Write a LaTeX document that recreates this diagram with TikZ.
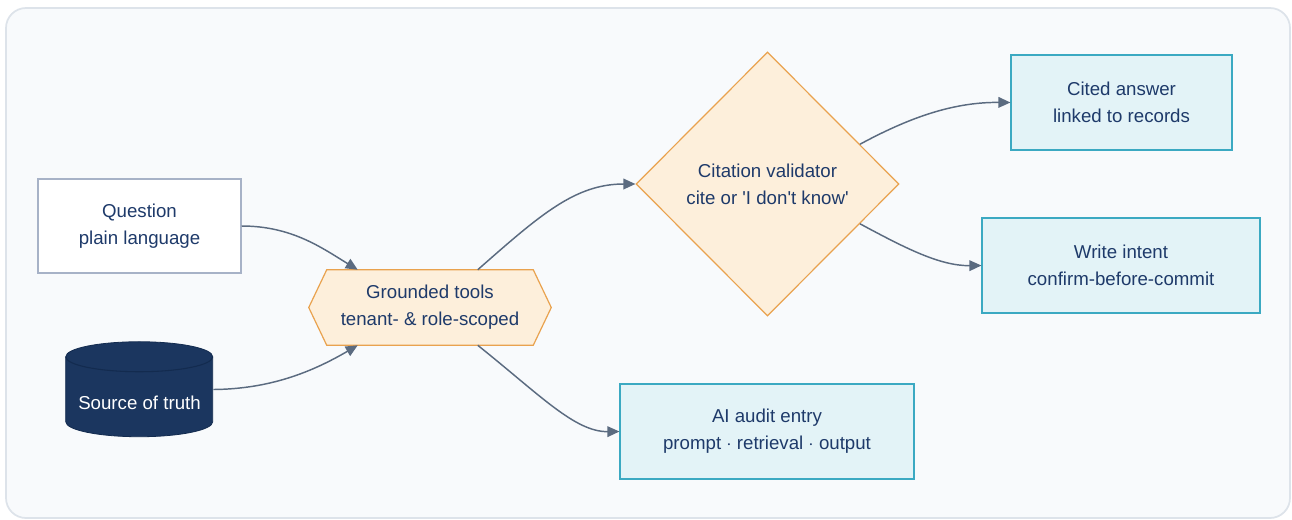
\documentclass[tikz,border=0pt]{standalone}
\usepackage{fontspec}
\setmainfont{Liberation Sans}
\usetikzlibrary{shapes.geometric,arrows.meta,calc,backgrounds}

\definecolor{framefill}{HTML}{F8FAFC}
\definecolor{frameline}{HTML}{DDE3EA}
\definecolor{ink}{HTML}{1E3A6A}
\definecolor{plainline}{HTML}{A7B2C7}
\definecolor{navy}{HTML}{1B365F}
\definecolor{navyline}{HTML}{132B4F}
\definecolor{warmfill}{HTML}{FDEFDB}
\definecolor{warmline}{HTML}{E9A24E}
\definecolor{tealfill}{HTML}{E3F3F7}
\definecolor{tealline}{HTML}{3BA9C2}
\definecolor{wire}{HTML}{5B6B80}

\tikzset{
  txt/.style={align=center, text=ink, font=\fontsize{14pt}{20.25pt}\selectfont},
  inputbox/.style={txt, draw=plainline, fill=white, line width=0.9pt,
    minimum width=152.25pt, minimum height=70.5pt, inner sep=0pt},
  outbox/.style={txt, draw=tealline, fill=tealfill, line width=0.9pt,
    minimum height=71.25pt, inner sep=0pt},
  decision/.style={txt, diamond, draw=warmline, fill=warmfill, line width=0.9pt,
    minimum width=197.25pt, minimum height=198pt, inner sep=0pt},
  hexbody/.style={txt, minimum width=181.5pt, minimum height=56.25pt, inner sep=0pt},
  hexline/.style={draw=warmline, fill=warmfill, line width=0.9pt},
  wireline/.style={draw=wire, line width=1.1pt, -{Triangle[length=9pt,width=8pt]}},
}

\begin{document}
\begin{tikzpicture}[x=0.75pt, y=-0.75pt]
  \useasboundingbox (0,0) rectangle (1292,519);

  % nodes
  \node[inputbox] (q) at (139.5,226) {Question\\plain language};
  \node[minimum width=110.25pt, minimum height=71.25pt, inner sep=0pt] (src) at (139.5,389.5) {};
  \node[txt, text=white, inner sep=0pt] (srctxt) at (139.5,403) {Source of truth};
  \node[hexbody] (g) at (430,307.5) {Grounded tools\\tenant- \& role-scoped};
  \node[decision] (dia) at (767.5,184)
    {Citation validator\\cite or \textquotesingle I don\textquotesingle t know\textquotesingle};
  \node[outbox, minimum width=165.75pt] (cited) at (1121.5,102.5) {Cited answer\\linked to records};
  \node[outbox, minimum width=208.5pt] (write) at (1121,265.5) {Write intent\\confirm-before-commit};
  \node[outbox, minimum width=220.5pt] (audit) at (767,431.5) {AI audit entry\\prompt $\cdot$ retrieval $\cdot$ output};

  \begin{scope}[on background layer]
    % panel
    \fill[white] (0,0) rectangle (1292,519);
    \draw[fill=framefill, draw=frameline, line width=1.3pt, rounded corners=15pt]
      (6,8) rectangle (1290,518);
    % hexagon around the tools node
    \draw[hexline] (g.west) -- ($(g.north west)+(18,0)$) -- ($(g.north east)+(-18,0)$)
      -- (g.east) -- ($(g.south east)+(-18,0)$) -- ($(g.south west)+(18,0)$) -- cycle;
    % database cylinder
    \draw[fill=navy, draw=navyline, line width=0.6pt]
      (src.north west) ++(0,15) -- ++(0,65)
      arc[start angle=180, end angle=360, x radius=55.125pt, y radius=11.25pt]
      -- ++(0,-65)
      arc[start angle=0, end angle=180, x radius=55.125pt, y radius=11.25pt] -- cycle;
    \draw[navyline, line width=0.8pt] (src.north west) ++(0,15)
      arc[start angle=180, end angle=360, x radius=55.125pt, y radius=11.25pt];
  \end{scope}

  % connectors
  \coordinate (gq) at ($(g.north west)+(49,0)$);
  \coordinate (gs) at ($(g.south west)+(49,0)$);
  \coordinate (gt) at ($(g.north west)+(169,0)$);
  \coordinate (gb) at ($(g.south west)+(169,0)$);
  \coordinate (dup) at ($(dia.north)!0.7!(dia.east)$);
  \coordinate (ddn) at ($(dia.south)!0.7!(dia.east)$);

  \draw[wireline] (q.east) .. controls (292,226) and (322,248) .. (gq);
  \draw[wireline] (src.east) .. controls (270,389) and (312,372) .. (gs);
  \draw[wireline] (gt) .. controls (540,215) and (575,184) .. (dia.west);
  \draw[wireline] (gb) .. controls (540,395) and (575,432) .. (audit.west);
  \draw[wireline] (dup) .. controls (905,120) and (950,102) .. (cited.west);
  \draw[wireline] (ddn) .. controls (905,248) and (940,266) .. (write.west);
\end{tikzpicture}
\end{document}
